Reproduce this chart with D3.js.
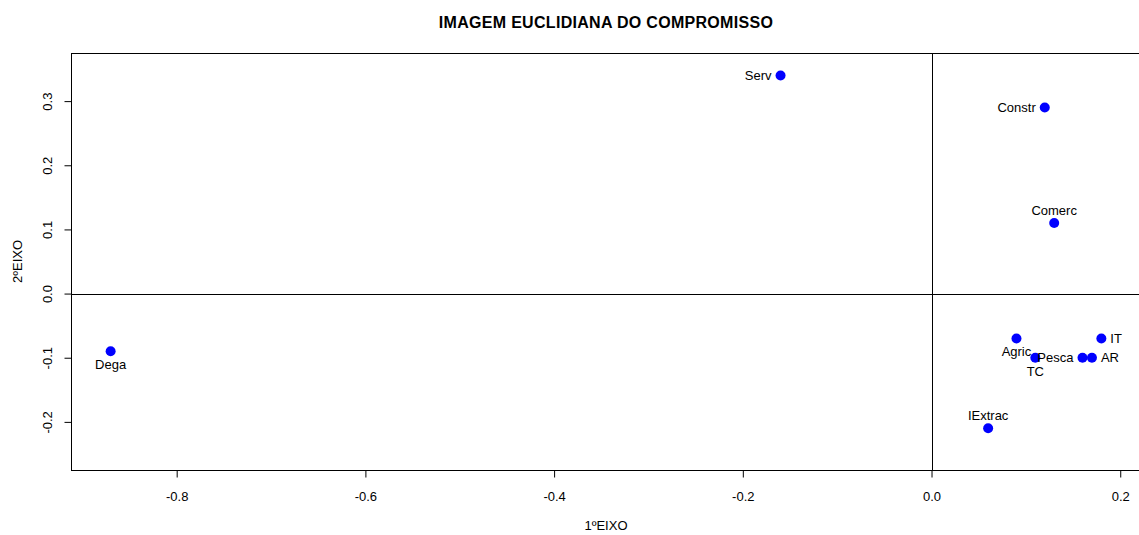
<!DOCTYPE html>
<html><head><meta charset="utf-8">
<script src="https://cdn.jsdelivr.net/npm/d3@7"></script>
<style>body{margin:0;background:#fff}svg{display:block;font-family:"Liberation Sans",Arial,sans-serif}</style>
</head><body><svg id="c" width="1139" height="535"></svg>
<script>
const labels = ["Serv","Constr","Comerc","Dega","Agric","TC","Pesca","AR","IT","IExtrac"];
const xVals = [-0.16,0.12,0.13,-0.87,0.09,0.11,0.16,0.17,0.18,0.06];
const yVals = [0.34,0.29,0.11,-0.09,-0.07,-0.10,-0.10,-0.10,-0.07,-0.21];
const labelPos = ["left","left","above","below","below","below","left","right","right","above"];
const xTicks = [-0.8,-0.6,-0.4,-0.2,0.0,0.2];
const yTicks = [-0.2,-0.1,0.0,0.1,0.2,0.3];
const title = "IMAGEM EUCLIDIANA DO COMPROMISSO";
const xTitle = "1ºEIXO", yTitle = "2ºEIXO";

const svg = d3.select("#c");
const L=71, R=1141, T=53, B=470;
const x = d3.scaleLinear().domain([-0.912,0.222]).range([L,R]);
const y = d3.scaleLinear().domain([-0.275,0.375]).range([B,T]);
const fmt = d => d3.format(".1f")(d).replace("−","-");

svg.append("rect").attr("x",L+0.5).attr("y",T+0.5).attr("width",R-L).attr("height",B-T)
  .attr("fill","none").attr("stroke","#000");

const xa = svg.append("g").attr("transform",`translate(0,${B+0.5})`)
  .call(d3.axisBottom(x).tickValues(xTicks).tickSize(7).tickPadding(14).tickFormat(fmt));
xa.select(".domain").attr("d",`M${x(-0.8)},0H${x(0.2)}`);
xa.selectAll("text").attr("font-size",13).attr("font-family","Liberation Sans, Arial");
const ya = svg.append("g").attr("transform",`translate(${L+0.5},0)`)
  .call(d3.axisLeft(y).tickValues(yTicks).tickSize(7).tickPadding(0).tickFormat(fmt));
ya.select(".domain").attr("d",`M0,${y(-0.2)}V${y(0.3)}`);
ya.selectAll("text").attr("font-size",13).attr("font-family","Liberation Sans, Arial")
  .attr("text-anchor","middle").attr("x",0).attr("dy",0)
  .attr("transform",d=>`translate(-20,0) rotate(-90)`);

svg.append("line").attr("x1",L).attr("x2",R).attr("y1",Math.round(y(0))+0.5).attr("y2",Math.round(y(0))+0.5).attr("stroke","#000");
svg.append("line").attr("y1",T).attr("y2",B).attr("x1",Math.round(x(0))+0.5).attr("x2",Math.round(x(0))+0.5).attr("stroke","#000");

const data = labels.map((l,i)=>({l,x:xVals[i],y:yVals[i],p:labelPos[i]}));
svg.append("g").selectAll("circle").data(data).join("circle")
  .attr("cx",d=>x(d.x)).attr("cy",d=>y(d.y)).attr("r",5).attr("fill","#0000ff");
svg.append("g").selectAll("text").data(data).join("text")
  .attr("font-size",13).attr("fill","#000")
  .attr("x",d=>x(d.x)+(d.p==="left"?-9:d.p==="right"?9:0))
  .attr("y",d=>y(d.y)+(d.p==="above"?-8:d.p==="below"?18:4.5))
  .attr("text-anchor",d=>d.p==="left"?"end":d.p==="right"?"start":"middle")
  .text(d=>d.l);

svg.append("text").attr("x",(L+R)/2).attr("y",28).attr("text-anchor","middle")
  .attr("font-size",16).attr("font-weight","bold").attr("letter-spacing",0.3).text(title);
svg.append("text").attr("x",(L+R)/2).attr("y",530).attr("text-anchor","middle")
  .attr("font-size",13).text(xTitle);
svg.append("text").attr("transform",`translate(22,${(T+B)/2}) rotate(-90)`).attr("text-anchor","middle")
  .attr("font-size",13).text(yTitle);
</script></body></html>
